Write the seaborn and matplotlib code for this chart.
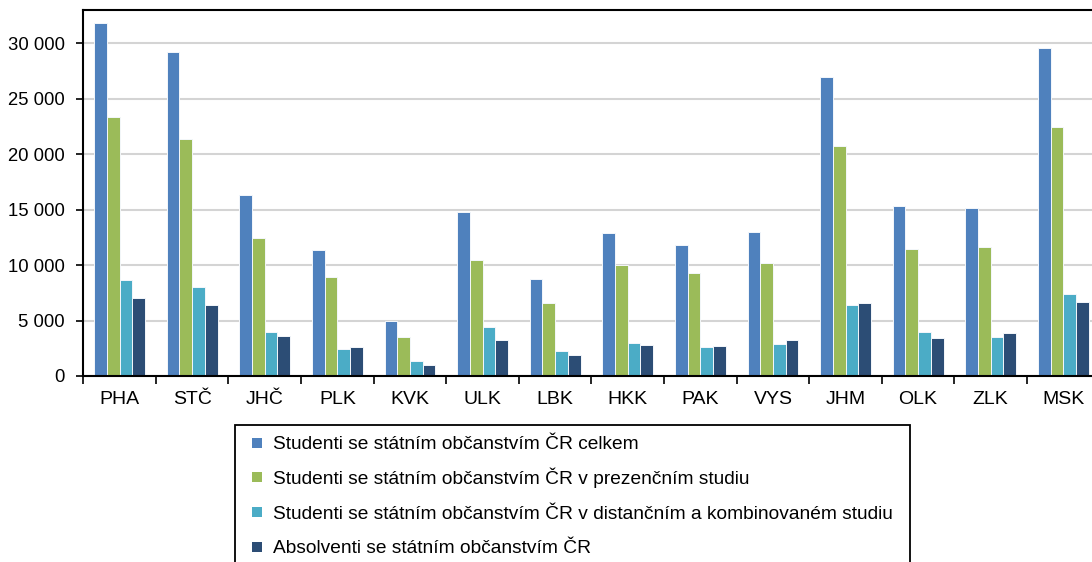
import numpy as np
import pandas as pd
import matplotlib
matplotlib.use("Agg")
import matplotlib.pyplot as plt
from matplotlib.patches import Rectangle
from matplotlib.ticker import FuncFormatter, FixedLocator
import seaborn as sns

kraje = ["PHA", "STČ", "JHČ", "PLK", "KVK", "ULK", "LBK", "HKK", "PAK", "VYS", "JHM", "OLK", "ZLK", "MSK"]
serie = [
    "Studenti se státním občanstvím ČR celkem",
    "Studenti se státním občanstvím ČR v prezenčním studiu",
    "Studenti se státním občanstvím ČR v distančním a kombinovaném studiu",
    "Absolventi se státním občanstvím ČR",
]
celkem = [31830, 29250, 16330, 11330, 4940, 14790, 8740, 12920, 11840, 12980, 26960, 15330, 15120, 29610]
prezencni = [23310, 21390, 12470, 8920, 3530, 10420, 6570, 10000, 9280, 10180, 20780, 11480, 11660, 22410]
distancni = [8680, 8040, 3950, 2440, 1360, 4400, 2230, 2980, 2590, 2890, 6390, 3950, 3530, 7410]
absolventi = [7020, 6360, 3620, 2620, 1030, 3230, 1870, 2830, 2680, 3230, 6570, 3440, 3860, 6660]
barvy = ["#4F81BD", "#9BBB59", "#4BACC6", "#2C4D75"]

df = pd.DataFrame({
    "kraj": kraje * 4,
    "serie": [s for s in serie for _ in kraje],
    "hodnota": celkem + prezencni + distancni + absolventi,
})

sns.set_theme(style="white")
plt.rcParams["font.family"] = ["Liberation Sans", "DejaVu Sans"]

W, H = 1092, 562
fig = plt.figure(figsize=(W / 100, H / 100), dpi=100)
left, right, top, bottom = 83.3, 1099.6, 10, 376
ax = fig.add_axes([left / W, 1 - bottom / H, (right - left) / W, (bottom - top) / H])

sns.barplot(data=df, x="kraj", y="hodnota", hue="serie", hue_order=serie, order=kraje,
            palette=barvy, width=0.7, edgecolor="#F4F7FB", linewidth=0.7, saturation=1,
            legend=False, ax=ax, zorder=3)

ax.set_xlim(-0.5, len(kraje) - 0.5)
ax.set_ylim(0, 33000)
ax.set_yticks(np.arange(0, 30001, 5000))
ax.yaxis.set_major_formatter(FuncFormatter(lambda v, p: f"{int(v):,}".replace(",", " ")))
ax.grid(axis="y", color="#D4D4D4", linewidth=1.5, zorder=0)
ax.grid(axis="x", visible=False)
ax.set_axisbelow(True)
ax.set_xlabel("")
ax.set_ylabel("")

for s in ["left", "bottom", "top", "right"]:
    ax.spines[s].set_visible(True)
    ax.spines[s].set_color("black")
    ax.spines[s].set_linewidth(1.5)
    ax.spines[s].set_zorder(6)

ax.tick_params(axis="y", which="major", length=5, width=1.2, color="black", pad=8.5,
               labelsize=13.3, labelcolor="black", left=True)
ax.tick_params(axis="x", which="major", length=0, pad=11, labelsize=14, labelcolor="black")
ax.xaxis.set_minor_locator(FixedLocator(np.arange(-0.5, len(kraje), 1.0)))
ax.tick_params(axis="x", which="minor", length=6, width=1.2, color="black", bottom=True)

# legend box (extends past the bottom edge, as in the source)
lx0, lx1, ly0 = 235, 910, 425
fig.add_artist(Rectangle((lx0 / W, 1 - (H + 20) / H), (lx1 - lx0) / W, (H + 20 - ly0) / H,
                         transform=fig.transFigure, fill=False, edgecolor="black",
                         linewidth=1.3, zorder=10))
baselines = [449.3, 484.0, 518.7, 553.4]
for lab, col, bl in zip(serie, barvy, baselines):
    cy = bl - 6.6
    fig.add_artist(Rectangle((252 / W, 1 - (cy + 5) / H), 10 / W, 10 / H,
                             transform=fig.transFigure, facecolor=col, edgecolor="none", zorder=11))
    fig.text(272.7 / W, 1 - bl / H, lab, fontsize=13.8, color="black", va="baseline", ha="left")

fig.savefig("out.png", dpi=100)
